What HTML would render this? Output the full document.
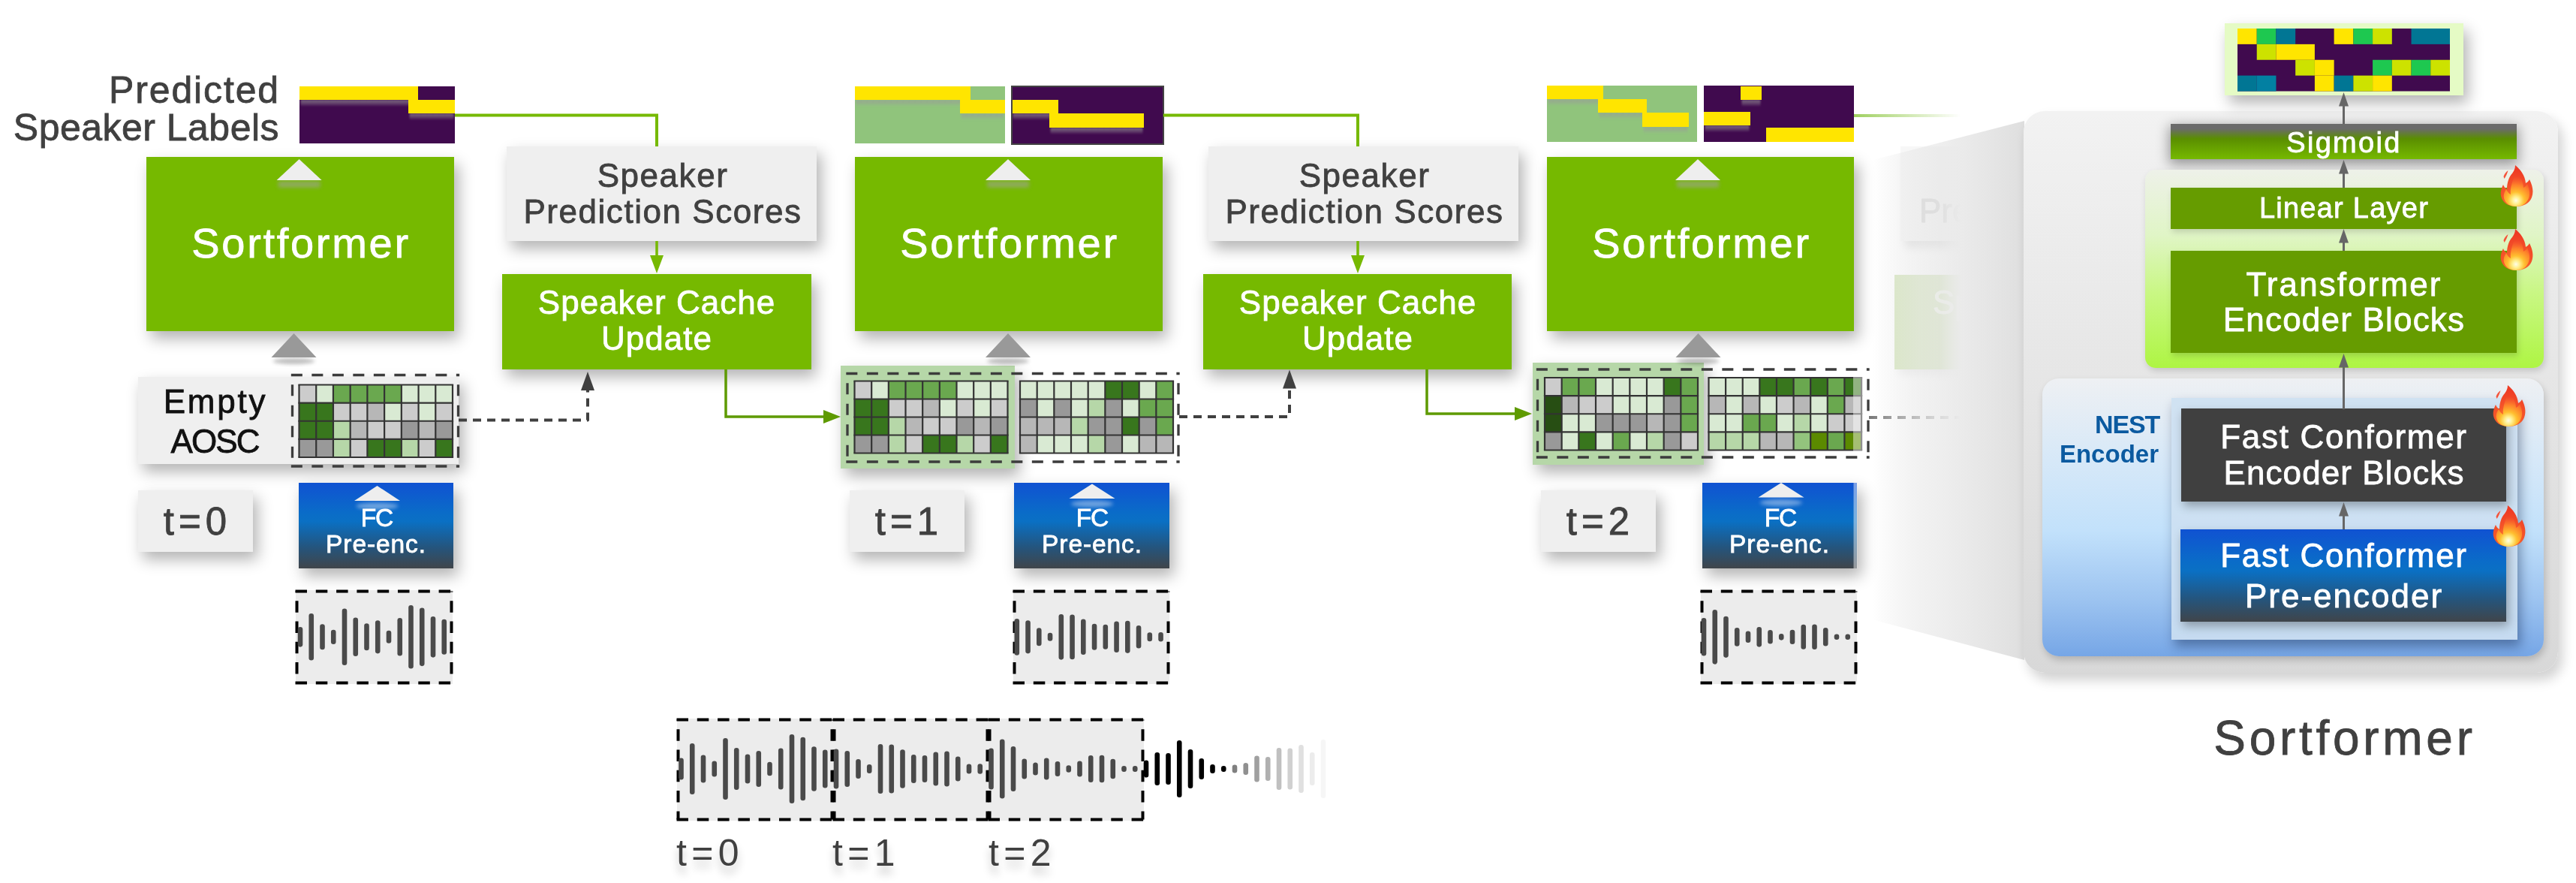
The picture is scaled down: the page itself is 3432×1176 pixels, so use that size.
<!DOCTYPE html>
<html><head><meta charset="utf-8"><title>Sortformer</title><style>
html,body{margin:0;padding:0;width:3432px;height:1176px;overflow:hidden;background:#fff;}
body{position:relative;font-family:"Liberation Sans",sans-serif;}
.box{position:absolute;box-sizing:border-box;}
.txt{position:absolute;white-space:nowrap;-webkit-text-stroke:0.8px currentColor;will-change:transform;}
.sh{box-shadow:6px 10px 19px rgba(0,0,0,0.30);}
.shs{box-shadow:3px 7px 10px rgba(0,0,0,0.22);}
.grn{background:#76b900;}
.gry{background:#efefef;}
.fc{background:linear-gradient(to bottom,#1052d2 0%,#0a6cc8 35%,#0a70c4 45%,#24557e 75%,#40454a 100%);}
svg{position:absolute;left:0;top:0;overflow:visible;}
</style></head><body>

<svg width="3432" height="1176" style="z-index:0">
<defs>
<linearGradient id="c4m" x1="2585" y1="0" x2="2614" y2="0" gradientUnits="userSpaceOnUse">
<stop offset="0" stop-color="#fff" stop-opacity="1"/><stop offset="1" stop-color="#fff" stop-opacity="0"/></linearGradient>
<mask id="c4mask" maskUnits="userSpaceOnUse" x="2400" y="0" width="400" height="1176"><rect x="2400" y="0" width="400" height="1176" fill="url(#c4m)"/></mask>
<filter id="c4b" x="-50%" y="-50%" width="200%" height="200%"><feGaussianBlur stdDeviation="6"/></filter>
</defs>
<g mask="url(#c4mask)">
<rect x="2538" y="206" width="300" height="124" fill="#000" opacity="0.10" filter="url(#c4b)"/>
<rect x="2532" y="195" width="300" height="126" fill="#f7f7f7"/>
<text x="2557" y="296" font-family="Liberation Sans" font-size="44" fill="#d8d8d8" stroke="#d8d8d8" stroke-width="0.8">Prediction</text>
<rect x="2530" y="375" width="300" height="124" fill="#000" opacity="0.06" filter="url(#c4b)"/>
<rect x="2524" y="366" width="300" height="126" fill="#dae9c4"/>
<text x="2575" y="418" font-family="Liberation Sans" font-size="44" fill="#f4f8ee" stroke="#f4f8ee" stroke-width="0.8">Speaker</text>
</g>
</svg>
<svg width="3432" height="1176" style="z-index:0">
<defs>
<linearGradient id="persp" x1="2495" y1="0" x2="2700" y2="0" gradientUnits="userSpaceOnUse">
<stop offset="0" stop-color="#dcdcdc" stop-opacity="0"/>
<stop offset="0.3" stop-color="#e4e4e4" stop-opacity="0.5"/>
<stop offset="1" stop-color="#dedede" stop-opacity="1"/>
</linearGradient>
</defs>
<polygon points="2470,219.5 2697,161 2697,879 2470,818.7" fill="url(#persp)"/>
</svg>
<div class="box" style="left:2696px;top:148px;width:712px;height:748px;background:linear-gradient(to bottom,#f2f2f2 0%,#e6e6e6 47%,#d8d8d8 100%);border-radius:28px;box-shadow:6px 10px 16px rgba(0,0,0,0.18);"></div>
<div class="txt" style="left:-227.50px;top:93.17px;width:600px;font-size:50px;line-height:55.00000000000001px;color:#404040;text-align:right;letter-spacing:1.85px;font-weight:normal;">Predicted</div>
<div class="txt" style="left:-228.00px;top:142.68px;width:600px;font-size:50px;line-height:55.00000000000001px;color:#404040;text-align:right;letter-spacing:0.48px;font-weight:normal;">Speaker Labels</div>
<div class="box grn sh" style="left:195px;top:209px;width:410px;height:232px;"></div>
<div class="txt" style="left:151.00px;top:292.80px;width:500px;font-size:56px;line-height:61.60000000000001px;color:#fff;text-align:center;letter-spacing:2.7px;font-weight:normal;">Sortformer</div>
<div class="box grn sh" style="left:1139px;top:209px;width:410px;height:232px;"></div>
<div class="txt" style="left:1095.00px;top:292.80px;width:500px;font-size:56px;line-height:61.60000000000001px;color:#fff;text-align:center;letter-spacing:2.7px;font-weight:normal;">Sortformer</div>
<div class="box grn sh" style="left:2061px;top:209px;width:409px;height:232px;"></div>
<div class="txt" style="left:2016.50px;top:292.80px;width:500px;font-size:56px;line-height:61.60000000000001px;color:#fff;text-align:center;letter-spacing:2.7px;font-weight:normal;">Sortformer</div>
<div class="box gry sh" style="left:675px;top:195px;width:413px;height:126px;"></div>
<div class="txt" style="left:632.50px;top:209.75px;width:500px;font-size:44px;line-height:48px;color:#404040;text-align:center;letter-spacing:1.55px;font-weight:normal;">Speaker<br>Prediction Scores</div>
<div class="box gry sh" style="left:1610px;top:195px;width:413px;height:126px;"></div>
<div class="txt" style="left:1567.50px;top:209.75px;width:500px;font-size:44px;line-height:48px;color:#404040;text-align:center;letter-spacing:1.55px;font-weight:normal;">Speaker<br>Prediction Scores</div>
<div class="box grn sh" style="left:669px;top:365px;width:412px;height:127px;"></div>
<div class="txt" style="left:625.00px;top:379.25px;width:500px;font-size:44px;line-height:48px;color:#fff;text-align:center;letter-spacing:1px;font-weight:normal;">Speaker Cache<br>Update</div>
<div class="box grn sh" style="left:1603px;top:365px;width:411px;height:127px;"></div>
<div class="txt" style="left:1558.50px;top:379.25px;width:500px;font-size:44px;line-height:48px;color:#fff;text-align:center;letter-spacing:1px;font-weight:normal;">Speaker Cache<br>Update</div>
<div class="box gry sh" style="left:184px;top:502px;width:427px;height:116px;"></div>
<div class="txt" style="left:137.00px;top:510.55px;width:300px;font-size:44px;line-height:48.400000000000006px;color:#111;text-align:center;letter-spacing:2.75px;font-weight:normal;">Empty</div>
<div class="txt" style="left:135.50px;top:563.55px;width:300px;font-size:44px;line-height:48.400000000000006px;color:#111;text-align:center;letter-spacing:-1.9px;font-weight:normal;">AOSC</div>
<div class="box sh" style="left:1120px;top:487px;width:232px;height:137px;background:#b6d7a8;"></div>
<div class="box sh" style="left:2042px;top:483px;width:228px;height:136px;background:#b6d7a8;"></div>
<div class="box gry sh" style="left:184px;top:653px;width:153px;height:82px;"></div>
<div class="txt" style="left:113.00px;top:666.68px;width:300px;font-size:51px;line-height:56.1px;color:#404040;text-align:center;letter-spacing:6px;font-weight:normal;">t=0</div>
<div class="box gry sh" style="left:1132px;top:653px;width:153px;height:82px;"></div>
<div class="txt" style="left:1061.00px;top:666.68px;width:300px;font-size:51px;line-height:56.1px;color:#404040;text-align:center;letter-spacing:6px;font-weight:normal;">t=1</div>
<div class="box gry sh" style="left:2053px;top:653px;width:153px;height:82px;"></div>
<div class="txt" style="left:1982.00px;top:666.68px;width:300px;font-size:51px;line-height:56.1px;color:#404040;text-align:center;letter-spacing:6px;font-weight:normal;">t=2</div>
<div class="box fc sh" style="left:398px;top:643px;width:206px;height:114px;"></div>
<div class="txt" style="left:351.50px;top:671.77px;width:300px;font-size:33.5px;line-height:36.85px;color:#fff;text-align:center;letter-spacing:-1.2px;font-weight:normal;">FC</div>
<div class="txt" style="left:351.00px;top:706.97px;width:300px;font-size:33.5px;line-height:36.85px;color:#fff;text-align:center;letter-spacing:0.9px;font-weight:normal;">Pre-enc.</div>
<div class="box fc sh" style="left:1351px;top:643px;width:207px;height:114px;"></div>
<div class="txt" style="left:1305.00px;top:671.77px;width:300px;font-size:33.5px;line-height:36.85px;color:#fff;text-align:center;letter-spacing:-1.2px;font-weight:normal;">FC</div>
<div class="txt" style="left:1304.50px;top:706.97px;width:300px;font-size:33.5px;line-height:36.85px;color:#fff;text-align:center;letter-spacing:0.9px;font-weight:normal;">Pre-enc.</div>
<div class="box fc sh" style="left:2268px;top:643px;width:206px;height:114px;"></div>
<div class="txt" style="left:2221.50px;top:671.77px;width:300px;font-size:33.5px;line-height:36.85px;color:#fff;text-align:center;letter-spacing:-1.2px;font-weight:normal;">FC</div>
<div class="txt" style="left:2221.00px;top:706.97px;width:300px;font-size:33.5px;line-height:36.85px;color:#fff;text-align:center;letter-spacing:0.9px;font-weight:normal;">Pre-enc.</div>
<div class="box" style="left:394px;top:786px;width:209px;height:125px;background:#ececec;"></div>
<div class="box" style="left:1350px;top:786px;width:208px;height:125px;background:#ececec;"></div>
<div class="box" style="left:2266px;top:786px;width:208px;height:125px;background:#ececec;"></div>
<div class="box" style="left:902px;top:957px;width:622px;height:136px;background:#ececec;"></div>
<div class="box sh" style="left:2964px;top:31px;width:318px;height:96px;background:#e5fbc5;"></div>
<div class="box" style="left:2892px;top:165px;width:461px;height:47px;background:linear-gradient(to bottom,#6b6b6b 0%,#6b6b6b 14%,#5a8e00 42%,#76b900 100%);box-shadow:0 5px 16px 2px rgba(0,0,0,0.38);"></div>
<div class="txt" style="left:2923.00px;top:170.43px;width:400px;font-size:38px;line-height:41.800000000000004px;color:#fff;text-align:center;letter-spacing:2.3px;font-weight:normal;">Sigmoid</div>
<div class="box" style="left:2858px;top:226px;width:531px;height:264px;background:linear-gradient(to bottom,#eef1e9 0%,#e0f5c6 33%,#c9f784 62%,#aef543 100%);border-radius:14px;box-shadow:2px 4px 8px rgba(0,0,0,0.15);"></div>
<div class="box" style="left:2892px;top:250px;width:461px;height:55px;background:#669c00;box-shadow:2px 4px 8px rgba(0,0,0,0.15);"></div>
<div class="txt" style="left:2923.00px;top:257.43px;width:400px;font-size:38px;line-height:41.800000000000004px;color:#fff;text-align:center;letter-spacing:1.25px;font-weight:normal;">Linear Layer</div>
<div class="box" style="left:2892px;top:334px;width:461px;height:136px;background:#669c00;box-shadow:2px 4px 8px rgba(0,0,0,0.15);"></div>
<div class="txt" style="left:2873.00px;top:354.55px;width:500px;font-size:44px;line-height:48.400000000000006px;color:#fff;text-align:center;letter-spacing:2.1px;font-weight:normal;">Transformer</div>
<div class="txt" style="left:2873.00px;top:402.05px;width:500px;font-size:44px;line-height:48.400000000000006px;color:#fff;text-align:center;letter-spacing:1.2px;font-weight:normal;">Encoder Blocks</div>
<div class="box" style="left:2721px;top:504px;width:668px;height:370px;background:linear-gradient(to bottom,#eef0f3 0%,#d6e8f8 30%,#c2e1fb 55%,#9cc3f0 80%,#76a6e6 100%);border-radius:22px;box-shadow:2px 5px 10px rgba(0,0,0,0.18);"></div>
<div class="box" style="left:2893px;top:530px;width:461px;height:322px;background:rgba(205,224,242,0.9);box-shadow:4px 9px 14px rgba(0,20,60,0.38);"></div>
<div class="txt" style="left:2576.50px;top:546.52px;width:300px;font-size:34px;line-height:37.400000000000006px;color:#0b5aa0;text-align:right;letter-spacing:-1.2px;font-weight:bold;-webkit-text-stroke:0;">NEST</div>
<div class="txt" style="left:2576.00px;top:586.92px;width:300px;font-size:33px;line-height:36.300000000000004px;color:#0b5aa0;text-align:right;letter-spacing:0px;font-weight:bold;-webkit-text-stroke:0;">Encoder</div>
<div class="box" style="left:2906px;top:544px;width:433px;height:124px;background:#404040;box-shadow:3px 6px 12px rgba(0,0,0,0.3);"></div>
<div class="txt" style="left:2873.00px;top:557.55px;width:500px;font-size:44px;line-height:48.400000000000006px;color:#fff;text-align:center;letter-spacing:1.7px;font-weight:normal;">Fast Conformer</div>
<div class="txt" style="left:2873.00px;top:605.55px;width:500px;font-size:44px;line-height:48.400000000000006px;color:#fff;text-align:center;letter-spacing:1.1px;font-weight:normal;">Encoder Blocks</div>
<div class="box fc" style="left:2905px;top:705px;width:434px;height:123px;"></div>
<div class="box" style="left:2905px;top:705px;width:434px;height:123px;box-shadow:3px 6px 12px rgba(0,0,0,0.3);"></div>
<div class="txt" style="left:2872.50px;top:716.05px;width:500px;font-size:44px;line-height:48.400000000000006px;color:#fff;text-align:center;letter-spacing:1.7px;font-weight:normal;">Fast Conformer</div>
<div class="txt" style="left:2872.50px;top:769.55px;width:500px;font-size:44px;line-height:48.400000000000006px;color:#fff;text-align:center;letter-spacing:2.0px;font-weight:normal;">Pre-encoder</div>
<div class="txt" style="left:2824.00px;top:948.12px;width:600px;font-size:64px;line-height:70.4px;color:#404040;text-align:center;letter-spacing:4.7px;font-weight:normal;">Sortformer</div>
<div class="txt" style="left:901.00px;top:1109.17px;width:200px;font-size:50px;line-height:55.00000000000001px;color:#404040;text-align:left;letter-spacing:6.3px;font-weight:normal;-webkit-text-stroke:0;text-shadow:0px 10px 12px rgba(0,0,0,0.22);">t=0</div>
<div class="txt" style="left:1109.00px;top:1109.17px;width:200px;font-size:50px;line-height:55.00000000000001px;color:#404040;text-align:left;letter-spacing:6.3px;font-weight:normal;-webkit-text-stroke:0;text-shadow:0px 10px 12px rgba(0,0,0,0.22);">t=1</div>
<div class="txt" style="left:1317.00px;top:1109.17px;width:200px;font-size:50px;line-height:55.00000000000001px;color:#404040;text-align:left;letter-spacing:6.3px;font-weight:normal;-webkit-text-stroke:0;text-shadow:0px 10px 12px rgba(0,0,0,0.22);">t=2</div>
<svg width="3432" height="1176"><defs><radialGradient id="flO" cx="21" cy="46" r="40" gradientUnits="userSpaceOnUse"><stop offset="0" stop-color="#ff8a30"/><stop offset="0.45" stop-color="#f5562a"/><stop offset="1" stop-color="#ee3a24"/></radialGradient><radialGradient id="flI" cx="21" cy="47" r="32" gradientUnits="userSpaceOnUse"><stop offset="0" stop-color="#fffce8"/><stop offset="0.15" stop-color="#fff090"/><stop offset="0.35" stop-color="#ffc030"/><stop offset="0.65" stop-color="#ff8a2a" stop-opacity="0.85"/><stop offset="1" stop-color="#f86030" stop-opacity="0"/></radialGradient><linearGradient id="hshad" x1="0" y1="0" x2="0" y2="1"><stop offset="0" stop-color="#9a9a9a" stop-opacity="0.6"/><stop offset="0.45" stop-color="#9a9a9a" stop-opacity="0.45"/><stop offset="1" stop-color="#9a9a9a" stop-opacity="0"/></linearGradient><filter id="blur1" x="-20%" y="-50%" width="140%" height="200%"><feGaussianBlur stdDeviation="1.2"/></filter><filter id="blur3" x="-50%" y="-50%" width="200%" height="200%"><feGaussianBlur stdDeviation="2.5"/></filter><filter id="blur4" x="-50%" y="-50%" width="200%" height="200%"><feGaussianBlur stdDeviation="4"/></filter><linearGradient id="fadeG" x1="2470" y1="0" x2="2612" y2="0" gradientUnits="userSpaceOnUse"><stop offset="0" stop-color="#9fd060"/><stop offset="1" stop-color="#9fd060" stop-opacity="0"/></linearGradient><linearGradient id="fadeD" x1="2490" y1="0" x2="2612" y2="0" gradientUnits="userSpaceOnUse"><stop offset="0" stop-color="#777"/><stop offset="1" stop-color="#999" stop-opacity="0"/></linearGradient></defs>
<rect x="399" y="115" width="207" height="76" fill="#400a4e"/>
<svg x="399" y="115" width="207" height="76" style="overflow:hidden">
<rect x="1.5" y="18" width="155" height="9" fill="url(#hshad)" filter="url(#blur1)"/>
<rect x="146.5" y="36" width="59" height="9" fill="url(#hshad)" filter="url(#blur1)"/>
<rect x="0" y="0" width="158" height="18" fill="#ffe500"/>
<rect x="145" y="18" width="62" height="18" fill="#ffe500"/>
</svg>
<rect x="1139" y="115" width="200" height="76" fill="#90c47c"/>
<svg x="1139" y="115" width="200" height="76" style="overflow:hidden">
<rect x="1.5" y="18" width="151" height="9" fill="url(#hshad)" filter="url(#blur1)"/>
<rect x="141.5" y="36" width="57" height="9" fill="url(#hshad)" filter="url(#blur1)"/>
<rect x="0" y="0" width="154" height="18" fill="#ffe500"/>
<rect x="140" y="18" width="60" height="18" fill="#ffe500"/>
</svg>
<rect x="1348" y="115" width="202" height="77" fill="#400a4e"/>
<svg x="1348" y="115" width="202" height="77" style="overflow:hidden">
<rect x="1.5" y="36" width="59" height="9" fill="url(#hshad)" filter="url(#blur1)"/>
<rect x="51.5" y="55" width="123" height="9" fill="url(#hshad)" filter="url(#blur1)"/>
<rect x="0" y="18" width="62" height="18" fill="#ffe500"/>
<rect x="50" y="36" width="126" height="19" fill="#ffe500"/>
</svg>
<rect x="1348" y="115" width="202" height="77" fill="none" stroke="#444" stroke-width="2"/>
<rect x="2061" y="114" width="200" height="75" fill="#90c47c"/>
<svg x="2061" y="114" width="200" height="75" style="overflow:hidden">
<rect x="1.5" y="18" width="72" height="9" fill="url(#hshad)" filter="url(#blur1)"/>
<rect x="69.5" y="36" width="62" height="9" fill="url(#hshad)" filter="url(#blur1)"/>
<rect x="128.5" y="55" width="59" height="9" fill="url(#hshad)" filter="url(#blur1)"/>
<rect x="0" y="0" width="75" height="18" fill="#ffe500"/>
<rect x="68" y="18" width="65" height="18" fill="#ffe500"/>
<rect x="127" y="36" width="62" height="19" fill="#ffe500"/>
</svg>
<rect x="2270" y="114" width="200" height="75" fill="#400a4e"/>
<svg x="2270" y="114" width="200" height="75" style="overflow:hidden">
<rect x="50.5" y="19" width="25" height="9" fill="url(#hshad)" filter="url(#blur1)"/>
<rect x="1.5" y="53" width="59" height="9" fill="url(#hshad)" filter="url(#blur1)"/>
<rect x="84.5" y="75" width="114" height="9" fill="url(#hshad)" filter="url(#blur1)"/>
<rect x="49" y="1" width="28" height="18" fill="#ffe500"/>
<rect x="0" y="35" width="62" height="18" fill="#ffe500"/>
<rect x="83" y="56" width="117" height="19" fill="#ffe500"/>
</svg>
<rect x="370.6" y="241" width="56" height="9" fill="#a0a0a0" opacity="0.55" filter="url(#blur3)"/>
<polygon points="368.6,240 398.6,212 428.6,240" fill="#eeeeee"/>
<rect x="1315" y="241" width="56" height="9" fill="#a0a0a0" opacity="0.55" filter="url(#blur3)"/>
<polygon points="1313,240 1343,212 1373,240" fill="#eeeeee"/>
<rect x="2234" y="241" width="56" height="9" fill="#a0a0a0" opacity="0.55" filter="url(#blur3)"/>
<polygon points="2232,240 2262,212 2292,240" fill="#eeeeee"/>
<ellipse cx="391.5" cy="481" rx="28" ry="4" fill="#000" opacity="0.25" filter="url(#blur3)"/>
<polygon points="361.5,476 391.5,444 421.5,476" fill="#999999"/>
<ellipse cx="1343" cy="481" rx="28" ry="4" fill="#000" opacity="0.25" filter="url(#blur3)"/>
<polygon points="1313,476 1343,444 1373,476" fill="#999999"/>
<ellipse cx="2262.5" cy="481" rx="28" ry="4" fill="#000" opacity="0.25" filter="url(#blur3)"/>
<polygon points="2232.5,476 2262.5,444 2292.5,476" fill="#999999"/>
<ellipse cx="502.5" cy="674" rx="28" ry="4.5" fill="#fff" opacity="0.4" filter="url(#blur3)"/>
<polygon points="472.0,667 502.5,647 533.0,667" fill="#eeeeee"/>
<ellipse cx="1455" cy="671" rx="28" ry="4.5" fill="#fff" opacity="0.4" filter="url(#blur3)"/>
<polygon points="1424.5,664 1455,644.5 1485.5,664" fill="#eeeeee"/>
<ellipse cx="2373" cy="669.5" rx="28" ry="4.5" fill="#fff" opacity="0.4" filter="url(#blur3)"/>
<polygon points="2342.5,662.5 2373,643 2403.5,662.5" fill="#eeeeee"/>
<rect x="2469.5" y="643" width="5" height="114" fill="#fff" opacity="0.45"/>
<polyline points="606,153.5 875,153.5 875,195" fill="none" stroke="#76b900" stroke-width="4"/>
<polyline points="1550,153.5 1809,153.5 1809,195" fill="none" stroke="#76b900" stroke-width="4"/>
<rect x="2470" y="152" width="142" height="4" fill="url(#fadeG)"/>
<line x1="875" y1="321" x2="875" y2="345" stroke="#76b900" stroke-width="3.5"/>
<polygon points="866,340 884,340 875,364" fill="#76b900"/>
<line x1="1809" y1="321" x2="1809" y2="345" stroke="#76b900" stroke-width="3.5"/>
<polygon points="1800,340 1818,340 1809,364" fill="#76b900"/>
<polyline points="967,492 967,555 1100,555" fill="none" stroke="#5e9a00" stroke-width="3.5"/>
<polygon points="1097,546 1097,564 1120,555" fill="#5e9a00"/>
<polyline points="1901,492 1901,551 2020,551" fill="none" stroke="#5e9a00" stroke-width="3.5"/>
<polygon points="2018,542 2018,560 2041,551" fill="#5e9a00"/>
<rect x="398.50" y="512.50" width="23.02" height="24.43" fill="#cccccc"/>
<rect x="421.22" y="512.50" width="23.02" height="24.43" fill="#d9ead3"/>
<rect x="443.94" y="512.50" width="23.02" height="24.43" fill="#6aa84f"/>
<rect x="466.67" y="512.50" width="23.02" height="24.43" fill="#6aa84f"/>
<rect x="489.39" y="512.50" width="23.02" height="24.43" fill="#6aa84f"/>
<rect x="512.11" y="512.50" width="23.02" height="24.43" fill="#6aa84f"/>
<rect x="534.83" y="512.50" width="23.02" height="24.43" fill="#d9ead3"/>
<rect x="557.56" y="512.50" width="23.02" height="24.43" fill="#d9ead3"/>
<rect x="580.28" y="512.50" width="23.02" height="24.43" fill="#d9ead3"/>
<rect x="398.50" y="536.62" width="23.02" height="24.43" fill="#38761d"/>
<rect x="421.22" y="536.62" width="23.02" height="24.43" fill="#38761d"/>
<rect x="443.94" y="536.62" width="23.02" height="24.43" fill="#cccccc"/>
<rect x="466.67" y="536.62" width="23.02" height="24.43" fill="#cccccc"/>
<rect x="489.39" y="536.62" width="23.02" height="24.43" fill="#b7b7b7"/>
<rect x="512.11" y="536.62" width="23.02" height="24.43" fill="#d9ead3"/>
<rect x="534.83" y="536.62" width="23.02" height="24.43" fill="#cccccc"/>
<rect x="557.56" y="536.62" width="23.02" height="24.43" fill="#d9ead3"/>
<rect x="580.28" y="536.62" width="23.02" height="24.43" fill="#cccccc"/>
<rect x="398.50" y="560.75" width="23.02" height="24.43" fill="#38761d"/>
<rect x="421.22" y="560.75" width="23.02" height="24.43" fill="#38761d"/>
<rect x="443.94" y="560.75" width="23.02" height="24.43" fill="#b6d7a8"/>
<rect x="466.67" y="560.75" width="23.02" height="24.43" fill="#b7b7b7"/>
<rect x="489.39" y="560.75" width="23.02" height="24.43" fill="#cccccc"/>
<rect x="512.11" y="560.75" width="23.02" height="24.43" fill="#cccccc"/>
<rect x="534.83" y="560.75" width="23.02" height="24.43" fill="#999999"/>
<rect x="557.56" y="560.75" width="23.02" height="24.43" fill="#b7b7b7"/>
<rect x="580.28" y="560.75" width="23.02" height="24.43" fill="#999999"/>
<rect x="398.50" y="584.88" width="23.02" height="24.43" fill="#999999"/>
<rect x="421.22" y="584.88" width="23.02" height="24.43" fill="#999999"/>
<rect x="443.94" y="584.88" width="23.02" height="24.43" fill="#b6d7a8"/>
<rect x="466.67" y="584.88" width="23.02" height="24.43" fill="#cccccc"/>
<rect x="489.39" y="584.88" width="23.02" height="24.43" fill="#38761d"/>
<rect x="512.11" y="584.88" width="23.02" height="24.43" fill="#38761d"/>
<rect x="534.83" y="584.88" width="23.02" height="24.43" fill="#b6d7a8"/>
<rect x="557.56" y="584.88" width="23.02" height="24.43" fill="#cccccc"/>
<rect x="580.28" y="584.88" width="23.02" height="24.43" fill="#38761d"/>
<line x1="398.50" y1="512.5" x2="398.50" y2="609" stroke="#333" stroke-width="2.2"/>
<line x1="421.22" y1="512.5" x2="421.22" y2="609" stroke="#333" stroke-width="2.2"/>
<line x1="443.94" y1="512.5" x2="443.94" y2="609" stroke="#333" stroke-width="2.2"/>
<line x1="466.67" y1="512.5" x2="466.67" y2="609" stroke="#333" stroke-width="2.2"/>
<line x1="489.39" y1="512.5" x2="489.39" y2="609" stroke="#333" stroke-width="2.2"/>
<line x1="512.11" y1="512.5" x2="512.11" y2="609" stroke="#333" stroke-width="2.2"/>
<line x1="534.83" y1="512.5" x2="534.83" y2="609" stroke="#333" stroke-width="2.2"/>
<line x1="557.56" y1="512.5" x2="557.56" y2="609" stroke="#333" stroke-width="2.2"/>
<line x1="580.28" y1="512.5" x2="580.28" y2="609" stroke="#333" stroke-width="2.2"/>
<line x1="603.00" y1="512.5" x2="603.00" y2="609" stroke="#333" stroke-width="2.2"/>
<line x1="397.4" y1="512.50" x2="604.1" y2="512.50" stroke="#333" stroke-width="2.2"/>
<line x1="397.4" y1="536.62" x2="604.1" y2="536.62" stroke="#333" stroke-width="2.2"/>
<line x1="397.4" y1="560.75" x2="604.1" y2="560.75" stroke="#333" stroke-width="2.2"/>
<line x1="397.4" y1="584.88" x2="604.1" y2="584.88" stroke="#333" stroke-width="2.2"/>
<line x1="397.4" y1="609.00" x2="604.1" y2="609.00" stroke="#333" stroke-width="2.2"/>
<rect x="1138.50" y="507.50" width="22.97" height="24.30" fill="#cccccc"/>
<rect x="1161.17" y="507.50" width="22.97" height="24.30" fill="#d9ead3"/>
<rect x="1183.83" y="507.50" width="22.97" height="24.30" fill="#6aa84f"/>
<rect x="1206.50" y="507.50" width="22.97" height="24.30" fill="#6aa84f"/>
<rect x="1229.17" y="507.50" width="22.97" height="24.30" fill="#6aa84f"/>
<rect x="1251.83" y="507.50" width="22.97" height="24.30" fill="#6aa84f"/>
<rect x="1274.50" y="507.50" width="22.97" height="24.30" fill="#d9ead3"/>
<rect x="1297.17" y="507.50" width="22.97" height="24.30" fill="#d9ead3"/>
<rect x="1319.83" y="507.50" width="22.97" height="24.30" fill="#d9ead3"/>
<rect x="1138.50" y="531.50" width="22.97" height="24.30" fill="#38761d"/>
<rect x="1161.17" y="531.50" width="22.97" height="24.30" fill="#38761d"/>
<rect x="1183.83" y="531.50" width="22.97" height="24.30" fill="#cccccc"/>
<rect x="1206.50" y="531.50" width="22.97" height="24.30" fill="#cccccc"/>
<rect x="1229.17" y="531.50" width="22.97" height="24.30" fill="#b7b7b7"/>
<rect x="1251.83" y="531.50" width="22.97" height="24.30" fill="#d9ead3"/>
<rect x="1274.50" y="531.50" width="22.97" height="24.30" fill="#cccccc"/>
<rect x="1297.17" y="531.50" width="22.97" height="24.30" fill="#d9ead3"/>
<rect x="1319.83" y="531.50" width="22.97" height="24.30" fill="#cccccc"/>
<rect x="1138.50" y="555.50" width="22.97" height="24.30" fill="#38761d"/>
<rect x="1161.17" y="555.50" width="22.97" height="24.30" fill="#38761d"/>
<rect x="1183.83" y="555.50" width="22.97" height="24.30" fill="#b6d7a8"/>
<rect x="1206.50" y="555.50" width="22.97" height="24.30" fill="#b7b7b7"/>
<rect x="1229.17" y="555.50" width="22.97" height="24.30" fill="#cccccc"/>
<rect x="1251.83" y="555.50" width="22.97" height="24.30" fill="#cccccc"/>
<rect x="1274.50" y="555.50" width="22.97" height="24.30" fill="#999999"/>
<rect x="1297.17" y="555.50" width="22.97" height="24.30" fill="#b7b7b7"/>
<rect x="1319.83" y="555.50" width="22.97" height="24.30" fill="#999999"/>
<rect x="1138.50" y="579.50" width="22.97" height="24.30" fill="#999999"/>
<rect x="1161.17" y="579.50" width="22.97" height="24.30" fill="#999999"/>
<rect x="1183.83" y="579.50" width="22.97" height="24.30" fill="#b6d7a8"/>
<rect x="1206.50" y="579.50" width="22.97" height="24.30" fill="#cccccc"/>
<rect x="1229.17" y="579.50" width="22.97" height="24.30" fill="#38761d"/>
<rect x="1251.83" y="579.50" width="22.97" height="24.30" fill="#38761d"/>
<rect x="1274.50" y="579.50" width="22.97" height="24.30" fill="#b6d7a8"/>
<rect x="1297.17" y="579.50" width="22.97" height="24.30" fill="#cccccc"/>
<rect x="1319.83" y="579.50" width="22.97" height="24.30" fill="#38761d"/>
<line x1="1138.50" y1="507.5" x2="1138.50" y2="603.5" stroke="#333" stroke-width="2.2"/>
<line x1="1161.17" y1="507.5" x2="1161.17" y2="603.5" stroke="#333" stroke-width="2.2"/>
<line x1="1183.83" y1="507.5" x2="1183.83" y2="603.5" stroke="#333" stroke-width="2.2"/>
<line x1="1206.50" y1="507.5" x2="1206.50" y2="603.5" stroke="#333" stroke-width="2.2"/>
<line x1="1229.17" y1="507.5" x2="1229.17" y2="603.5" stroke="#333" stroke-width="2.2"/>
<line x1="1251.83" y1="507.5" x2="1251.83" y2="603.5" stroke="#333" stroke-width="2.2"/>
<line x1="1274.50" y1="507.5" x2="1274.50" y2="603.5" stroke="#333" stroke-width="2.2"/>
<line x1="1297.17" y1="507.5" x2="1297.17" y2="603.5" stroke="#333" stroke-width="2.2"/>
<line x1="1319.83" y1="507.5" x2="1319.83" y2="603.5" stroke="#333" stroke-width="2.2"/>
<line x1="1342.50" y1="507.5" x2="1342.50" y2="603.5" stroke="#333" stroke-width="2.2"/>
<line x1="1137.4" y1="507.50" x2="1343.6" y2="507.50" stroke="#333" stroke-width="2.2"/>
<line x1="1137.4" y1="531.50" x2="1343.6" y2="531.50" stroke="#333" stroke-width="2.2"/>
<line x1="1137.4" y1="555.50" x2="1343.6" y2="555.50" stroke="#333" stroke-width="2.2"/>
<line x1="1137.4" y1="579.50" x2="1343.6" y2="579.50" stroke="#333" stroke-width="2.2"/>
<line x1="1137.4" y1="603.50" x2="1343.6" y2="603.50" stroke="#333" stroke-width="2.2"/>
<rect x="1359.00" y="507.50" width="22.97" height="24.30" fill="#d9ead3"/>
<rect x="1381.67" y="507.50" width="22.97" height="24.30" fill="#d9ead3"/>
<rect x="1404.33" y="507.50" width="22.97" height="24.30" fill="#d9ead3"/>
<rect x="1427.00" y="507.50" width="22.97" height="24.30" fill="#d9ead3"/>
<rect x="1449.67" y="507.50" width="22.97" height="24.30" fill="#d9ead3"/>
<rect x="1472.33" y="507.50" width="22.97" height="24.30" fill="#38761d"/>
<rect x="1495.00" y="507.50" width="22.97" height="24.30" fill="#38761d"/>
<rect x="1517.67" y="507.50" width="22.97" height="24.30" fill="#d9ead3"/>
<rect x="1540.33" y="507.50" width="22.97" height="24.30" fill="#6aa84f"/>
<rect x="1359.00" y="531.50" width="22.97" height="24.30" fill="#999999"/>
<rect x="1381.67" y="531.50" width="22.97" height="24.30" fill="#d9ead3"/>
<rect x="1404.33" y="531.50" width="22.97" height="24.30" fill="#999999"/>
<rect x="1427.00" y="531.50" width="22.97" height="24.30" fill="#d9ead3"/>
<rect x="1449.67" y="531.50" width="22.97" height="24.30" fill="#b6d7a8"/>
<rect x="1472.33" y="531.50" width="22.97" height="24.30" fill="#999999"/>
<rect x="1495.00" y="531.50" width="22.97" height="24.30" fill="#d9ead3"/>
<rect x="1517.67" y="531.50" width="22.97" height="24.30" fill="#6aa84f"/>
<rect x="1540.33" y="531.50" width="22.97" height="24.30" fill="#6aa84f"/>
<rect x="1359.00" y="555.50" width="22.97" height="24.30" fill="#b7b7b7"/>
<rect x="1381.67" y="555.50" width="22.97" height="24.30" fill="#b7b7b7"/>
<rect x="1404.33" y="555.50" width="22.97" height="24.30" fill="#b7b7b7"/>
<rect x="1427.00" y="555.50" width="22.97" height="24.30" fill="#b6d7a8"/>
<rect x="1449.67" y="555.50" width="22.97" height="24.30" fill="#999999"/>
<rect x="1472.33" y="555.50" width="22.97" height="24.30" fill="#999999"/>
<rect x="1495.00" y="555.50" width="22.97" height="24.30" fill="#38761d"/>
<rect x="1517.67" y="555.50" width="22.97" height="24.30" fill="#999999"/>
<rect x="1540.33" y="555.50" width="22.97" height="24.30" fill="#6aa84f"/>
<rect x="1359.00" y="579.50" width="22.97" height="24.30" fill="#b7b7b7"/>
<rect x="1381.67" y="579.50" width="22.97" height="24.30" fill="#d9ead3"/>
<rect x="1404.33" y="579.50" width="22.97" height="24.30" fill="#d9ead3"/>
<rect x="1427.00" y="579.50" width="22.97" height="24.30" fill="#d9ead3"/>
<rect x="1449.67" y="579.50" width="22.97" height="24.30" fill="#b6d7a8"/>
<rect x="1472.33" y="579.50" width="22.97" height="24.30" fill="#999999"/>
<rect x="1495.00" y="579.50" width="22.97" height="24.30" fill="#d9ead3"/>
<rect x="1517.67" y="579.50" width="22.97" height="24.30" fill="#b7b7b7"/>
<rect x="1540.33" y="579.50" width="22.97" height="24.30" fill="#b7b7b7"/>
<line x1="1359.00" y1="507.5" x2="1359.00" y2="603.5" stroke="#333" stroke-width="2.2"/>
<line x1="1381.67" y1="507.5" x2="1381.67" y2="603.5" stroke="#333" stroke-width="2.2"/>
<line x1="1404.33" y1="507.5" x2="1404.33" y2="603.5" stroke="#333" stroke-width="2.2"/>
<line x1="1427.00" y1="507.5" x2="1427.00" y2="603.5" stroke="#333" stroke-width="2.2"/>
<line x1="1449.67" y1="507.5" x2="1449.67" y2="603.5" stroke="#333" stroke-width="2.2"/>
<line x1="1472.33" y1="507.5" x2="1472.33" y2="603.5" stroke="#333" stroke-width="2.2"/>
<line x1="1495.00" y1="507.5" x2="1495.00" y2="603.5" stroke="#333" stroke-width="2.2"/>
<line x1="1517.67" y1="507.5" x2="1517.67" y2="603.5" stroke="#333" stroke-width="2.2"/>
<line x1="1540.33" y1="507.5" x2="1540.33" y2="603.5" stroke="#333" stroke-width="2.2"/>
<line x1="1563.00" y1="507.5" x2="1563.00" y2="603.5" stroke="#333" stroke-width="2.2"/>
<line x1="1357.9" y1="507.50" x2="1564.1" y2="507.50" stroke="#333" stroke-width="2.2"/>
<line x1="1357.9" y1="531.50" x2="1564.1" y2="531.50" stroke="#333" stroke-width="2.2"/>
<line x1="1357.9" y1="555.50" x2="1564.1" y2="555.50" stroke="#333" stroke-width="2.2"/>
<line x1="1357.9" y1="579.50" x2="1564.1" y2="579.50" stroke="#333" stroke-width="2.2"/>
<line x1="1357.9" y1="603.50" x2="1564.1" y2="603.50" stroke="#333" stroke-width="2.2"/>
<rect x="2058.00" y="503.00" width="22.97" height="24.43" fill="#cccccc"/>
<rect x="2080.67" y="503.00" width="22.97" height="24.43" fill="#6aa84f"/>
<rect x="2103.33" y="503.00" width="22.97" height="24.43" fill="#6aa84f"/>
<rect x="2126.00" y="503.00" width="22.97" height="24.43" fill="#d9ead3"/>
<rect x="2148.67" y="503.00" width="22.97" height="24.43" fill="#d9ead3"/>
<rect x="2171.33" y="503.00" width="22.97" height="24.43" fill="#d9ead3"/>
<rect x="2194.00" y="503.00" width="22.97" height="24.43" fill="#d9ead3"/>
<rect x="2216.67" y="503.00" width="22.97" height="24.43" fill="#38761d"/>
<rect x="2239.33" y="503.00" width="22.97" height="24.43" fill="#6aa84f"/>
<rect x="2058.00" y="527.12" width="22.97" height="24.43" fill="#274e13"/>
<rect x="2080.67" y="527.12" width="22.97" height="24.43" fill="#b7b7b7"/>
<rect x="2103.33" y="527.12" width="22.97" height="24.43" fill="#cccccc"/>
<rect x="2126.00" y="527.12" width="22.97" height="24.43" fill="#cccccc"/>
<rect x="2148.67" y="527.12" width="22.97" height="24.43" fill="#d9ead3"/>
<rect x="2171.33" y="527.12" width="22.97" height="24.43" fill="#d9ead3"/>
<rect x="2194.00" y="527.12" width="22.97" height="24.43" fill="#d9ead3"/>
<rect x="2216.67" y="527.12" width="22.97" height="24.43" fill="#999999"/>
<rect x="2239.33" y="527.12" width="22.97" height="24.43" fill="#6aa84f"/>
<rect x="2058.00" y="551.25" width="22.97" height="24.43" fill="#274e13"/>
<rect x="2080.67" y="551.25" width="22.97" height="24.43" fill="#d9ead3"/>
<rect x="2103.33" y="551.25" width="22.97" height="24.43" fill="#d9ead3"/>
<rect x="2126.00" y="551.25" width="22.97" height="24.43" fill="#999999"/>
<rect x="2148.67" y="551.25" width="22.97" height="24.43" fill="#999999"/>
<rect x="2171.33" y="551.25" width="22.97" height="24.43" fill="#999999"/>
<rect x="2194.00" y="551.25" width="22.97" height="24.43" fill="#b7b7b7"/>
<rect x="2216.67" y="551.25" width="22.97" height="24.43" fill="#999999"/>
<rect x="2239.33" y="551.25" width="22.97" height="24.43" fill="#6aa84f"/>
<rect x="2058.00" y="575.38" width="22.97" height="24.43" fill="#999999"/>
<rect x="2080.67" y="575.38" width="22.97" height="24.43" fill="#d9ead3"/>
<rect x="2103.33" y="575.38" width="22.97" height="24.43" fill="#38761d"/>
<rect x="2126.00" y="575.38" width="22.97" height="24.43" fill="#d9ead3"/>
<rect x="2148.67" y="575.38" width="22.97" height="24.43" fill="#6aa84f"/>
<rect x="2171.33" y="575.38" width="22.97" height="24.43" fill="#d9ead3"/>
<rect x="2194.00" y="575.38" width="22.97" height="24.43" fill="#b6d7a8"/>
<rect x="2216.67" y="575.38" width="22.97" height="24.43" fill="#999999"/>
<rect x="2239.33" y="575.38" width="22.97" height="24.43" fill="#cccccc"/>
<line x1="2058.00" y1="503" x2="2058.00" y2="599.5" stroke="#333" stroke-width="2.2"/>
<line x1="2080.67" y1="503" x2="2080.67" y2="599.5" stroke="#333" stroke-width="2.2"/>
<line x1="2103.33" y1="503" x2="2103.33" y2="599.5" stroke="#333" stroke-width="2.2"/>
<line x1="2126.00" y1="503" x2="2126.00" y2="599.5" stroke="#333" stroke-width="2.2"/>
<line x1="2148.67" y1="503" x2="2148.67" y2="599.5" stroke="#333" stroke-width="2.2"/>
<line x1="2171.33" y1="503" x2="2171.33" y2="599.5" stroke="#333" stroke-width="2.2"/>
<line x1="2194.00" y1="503" x2="2194.00" y2="599.5" stroke="#333" stroke-width="2.2"/>
<line x1="2216.67" y1="503" x2="2216.67" y2="599.5" stroke="#333" stroke-width="2.2"/>
<line x1="2239.33" y1="503" x2="2239.33" y2="599.5" stroke="#333" stroke-width="2.2"/>
<line x1="2262.00" y1="503" x2="2262.00" y2="599.5" stroke="#333" stroke-width="2.2"/>
<line x1="2056.9" y1="503.00" x2="2263.1" y2="503.00" stroke="#333" stroke-width="2.2"/>
<line x1="2056.9" y1="527.12" x2="2263.1" y2="527.12" stroke="#333" stroke-width="2.2"/>
<line x1="2056.9" y1="551.25" x2="2263.1" y2="551.25" stroke="#333" stroke-width="2.2"/>
<line x1="2056.9" y1="575.38" x2="2263.1" y2="575.38" stroke="#333" stroke-width="2.2"/>
<line x1="2056.9" y1="599.50" x2="2263.1" y2="599.50" stroke="#333" stroke-width="2.2"/>
<rect x="2276.50" y="503.00" width="22.91" height="24.43" fill="#d9ead3"/>
<rect x="2299.11" y="503.00" width="22.91" height="24.43" fill="#d9ead3"/>
<rect x="2321.72" y="503.00" width="22.91" height="24.43" fill="#d9ead3"/>
<rect x="2344.33" y="503.00" width="22.91" height="24.43" fill="#38761d"/>
<rect x="2366.94" y="503.00" width="22.91" height="24.43" fill="#38761d"/>
<rect x="2389.56" y="503.00" width="22.91" height="24.43" fill="#6aa84f"/>
<rect x="2412.17" y="503.00" width="22.91" height="24.43" fill="#38761d"/>
<rect x="2434.78" y="503.00" width="22.91" height="24.43" fill="#6aa84f"/>
<rect x="2457.39" y="503.00" width="22.91" height="24.43" fill="#38761d"/>
<rect x="2276.50" y="527.12" width="22.91" height="24.43" fill="#b7b7b7"/>
<rect x="2299.11" y="527.12" width="22.91" height="24.43" fill="#d9ead3"/>
<rect x="2321.72" y="527.12" width="22.91" height="24.43" fill="#b7b7b7"/>
<rect x="2344.33" y="527.12" width="22.91" height="24.43" fill="#d9ead3"/>
<rect x="2366.94" y="527.12" width="22.91" height="24.43" fill="#cccccc"/>
<rect x="2389.56" y="527.12" width="22.91" height="24.43" fill="#b7b7b7"/>
<rect x="2412.17" y="527.12" width="22.91" height="24.43" fill="#d9ead3"/>
<rect x="2434.78" y="527.12" width="22.91" height="24.43" fill="#6aa84f"/>
<rect x="2457.39" y="527.12" width="22.91" height="24.43" fill="#b7b7b7"/>
<rect x="2276.50" y="551.25" width="22.91" height="24.43" fill="#d9ead3"/>
<rect x="2299.11" y="551.25" width="22.91" height="24.43" fill="#d9ead3"/>
<rect x="2321.72" y="551.25" width="22.91" height="24.43" fill="#6aa84f"/>
<rect x="2344.33" y="551.25" width="22.91" height="24.43" fill="#6aa84f"/>
<rect x="2366.94" y="551.25" width="22.91" height="24.43" fill="#d9ead3"/>
<rect x="2389.56" y="551.25" width="22.91" height="24.43" fill="#b6d7a8"/>
<rect x="2412.17" y="551.25" width="22.91" height="24.43" fill="#d9ead3"/>
<rect x="2434.78" y="551.25" width="22.91" height="24.43" fill="#cccccc"/>
<rect x="2457.39" y="551.25" width="22.91" height="24.43" fill="#cccccc"/>
<rect x="2276.50" y="575.38" width="22.91" height="24.43" fill="#b6d7a8"/>
<rect x="2299.11" y="575.38" width="22.91" height="24.43" fill="#b6d7a8"/>
<rect x="2321.72" y="575.38" width="22.91" height="24.43" fill="#b6d7a8"/>
<rect x="2344.33" y="575.38" width="22.91" height="24.43" fill="#b7b7b7"/>
<rect x="2366.94" y="575.38" width="22.91" height="24.43" fill="#b7b7b7"/>
<rect x="2389.56" y="575.38" width="22.91" height="24.43" fill="#93c47d"/>
<rect x="2412.17" y="575.38" width="22.91" height="24.43" fill="#5b8a00"/>
<rect x="2434.78" y="575.38" width="22.91" height="24.43" fill="#6aa84f"/>
<rect x="2457.39" y="575.38" width="22.91" height="24.43" fill="#5b8a00"/>
<line x1="2276.50" y1="503" x2="2276.50" y2="599.5" stroke="#333" stroke-width="2.2"/>
<line x1="2299.11" y1="503" x2="2299.11" y2="599.5" stroke="#333" stroke-width="2.2"/>
<line x1="2321.72" y1="503" x2="2321.72" y2="599.5" stroke="#333" stroke-width="2.2"/>
<line x1="2344.33" y1="503" x2="2344.33" y2="599.5" stroke="#333" stroke-width="2.2"/>
<line x1="2366.94" y1="503" x2="2366.94" y2="599.5" stroke="#333" stroke-width="2.2"/>
<line x1="2389.56" y1="503" x2="2389.56" y2="599.5" stroke="#333" stroke-width="2.2"/>
<line x1="2412.17" y1="503" x2="2412.17" y2="599.5" stroke="#333" stroke-width="2.2"/>
<line x1="2434.78" y1="503" x2="2434.78" y2="599.5" stroke="#333" stroke-width="2.2"/>
<line x1="2457.39" y1="503" x2="2457.39" y2="599.5" stroke="#333" stroke-width="2.2"/>
<line x1="2480.00" y1="503" x2="2480.00" y2="599.5" stroke="#333" stroke-width="2.2"/>
<line x1="2275.4" y1="503.00" x2="2481.1" y2="503.00" stroke="#333" stroke-width="2.2"/>
<line x1="2275.4" y1="527.12" x2="2481.1" y2="527.12" stroke="#333" stroke-width="2.2"/>
<line x1="2275.4" y1="551.25" x2="2481.1" y2="551.25" stroke="#333" stroke-width="2.2"/>
<line x1="2275.4" y1="575.38" x2="2481.1" y2="575.38" stroke="#333" stroke-width="2.2"/>
<line x1="2275.4" y1="599.50" x2="2481.1" y2="599.50" stroke="#333" stroke-width="2.2"/>
<rect x="2469" y="502" width="12" height="99" fill="#fff" opacity="0.45"/>
<line x1="387.85" y1="499.5" x2="612.15" y2="499.5" stroke="#3c3c3c" stroke-width="3.3" stroke-dasharray="15 12.5"/>
<line x1="387.85" y1="621" x2="612.15" y2="621" stroke="#3c3c3c" stroke-width="3.3" stroke-dasharray="15 12.5"/>
<line x1="389.5" y1="499.5" x2="389.5" y2="621" stroke="#3c3c3c" stroke-width="3.3" stroke-dasharray="15 12.5" stroke-dashoffset="14.8"/>
<line x1="610.5" y1="499.5" x2="610.5" y2="621" stroke="#3c3c3c" stroke-width="3.3" stroke-dasharray="15 12.5" stroke-dashoffset="14.8"/>
<line x1="1127.35" y1="497.5" x2="1571.65" y2="497.5" stroke="#3c3c3c" stroke-width="3.3" stroke-dasharray="15 12.5"/>
<line x1="1127.35" y1="615" x2="1571.65" y2="615" stroke="#3c3c3c" stroke-width="3.3" stroke-dasharray="15 12.5"/>
<line x1="1129" y1="497.5" x2="1129" y2="615" stroke="#3c3c3c" stroke-width="3.3" stroke-dasharray="15 12.5" stroke-dashoffset="14.8"/>
<line x1="1570" y1="497.5" x2="1570" y2="615" stroke="#3c3c3c" stroke-width="3.3" stroke-dasharray="15 12.5" stroke-dashoffset="14.8"/>
<line x1="2046.85" y1="492" x2="2490.65" y2="492" stroke="#3c3c3c" stroke-width="3.3" stroke-dasharray="15 12.5"/>
<line x1="2046.85" y1="609" x2="2490.65" y2="609" stroke="#3c3c3c" stroke-width="3.3" stroke-dasharray="15 12.5"/>
<line x1="2048.5" y1="492" x2="2048.5" y2="609" stroke="#3c3c3c" stroke-width="3.3" stroke-dasharray="15 12.5" stroke-dashoffset="14.8"/>
<line x1="2489" y1="492" x2="2489" y2="609" stroke="#3c3c3c" stroke-width="3.3" stroke-dasharray="15 12.5" stroke-dashoffset="14.8"/>
<polyline points="611,559.5 783,559.5 783,517" fill="none" stroke="#404040" stroke-width="4" stroke-dasharray="11 8" stroke-linejoin="round"/>
<polygon points="774,520 792,520 783,495" fill="#404040"/>
<polyline points="1571,555 1718,555 1718,514.5" fill="none" stroke="#404040" stroke-width="4" stroke-dasharray="11 8" stroke-linejoin="round"/>
<polygon points="1709,517.5 1727,517.5 1718,492.5" fill="#404040"/>
<line x1="2490" y1="556" x2="2612" y2="556" stroke="url(#fadeD)" stroke-width="4" stroke-dasharray="11 8"/>
<line x1="393.5" y1="787.5" x2="603.5" y2="787.5" stroke="#000" stroke-width="4" stroke-dasharray="15.5 11.8"/>
<line x1="393.5" y1="909.5" x2="603.5" y2="909.5" stroke="#000" stroke-width="4" stroke-dasharray="15.5 11.8"/>
<line x1="395.5" y1="787.5" x2="395.5" y2="909.5" stroke="#000" stroke-width="4" stroke-dasharray="15.5 11.8" stroke-dashoffset="14.600000000000001"/>
<line x1="601.5" y1="787.5" x2="601.5" y2="909.5" stroke="#000" stroke-width="4" stroke-dasharray="15.5 11.8" stroke-dashoffset="14.600000000000001"/>
<line x1="1349.5" y1="787.5" x2="1558.5" y2="787.5" stroke="#000" stroke-width="4" stroke-dasharray="15.5 11.8"/>
<line x1="1349.5" y1="909.5" x2="1558.5" y2="909.5" stroke="#000" stroke-width="4" stroke-dasharray="15.5 11.8"/>
<line x1="1351.5" y1="787.5" x2="1351.5" y2="909.5" stroke="#000" stroke-width="4" stroke-dasharray="15.5 11.8" stroke-dashoffset="14.600000000000001"/>
<line x1="1556.5" y1="787.5" x2="1556.5" y2="909.5" stroke="#000" stroke-width="4" stroke-dasharray="15.5 11.8" stroke-dashoffset="14.600000000000001"/>
<line x1="2265.5" y1="787.5" x2="2474.5" y2="787.5" stroke="#000" stroke-width="4" stroke-dasharray="15.5 11.8"/>
<line x1="2265.5" y1="909.5" x2="2474.5" y2="909.5" stroke="#000" stroke-width="4" stroke-dasharray="15.5 11.8"/>
<line x1="2267.5" y1="787.5" x2="2267.5" y2="909.5" stroke="#000" stroke-width="4" stroke-dasharray="15.5 11.8" stroke-dashoffset="14.600000000000001"/>
<line x1="2472.5" y1="787.5" x2="2472.5" y2="909.5" stroke="#000" stroke-width="4" stroke-dasharray="15.5 11.8" stroke-dashoffset="14.600000000000001"/>
<line x1="901.5" y1="958.5" x2="1110.5" y2="958.5" stroke="#000" stroke-width="4" stroke-dasharray="15.5 11.8"/>
<line x1="901.5" y1="1091.5" x2="1110.5" y2="1091.5" stroke="#000" stroke-width="4" stroke-dasharray="15.5 11.8"/>
<line x1="903.5" y1="958.5" x2="903.5" y2="1091.5" stroke="#000" stroke-width="4" stroke-dasharray="15.5 11.8" stroke-dashoffset="14.600000000000001"/>
<line x1="1108.5" y1="958.5" x2="1108.5" y2="1091.5" stroke="#000" stroke-width="4" stroke-dasharray="15.5 11.8" stroke-dashoffset="14.600000000000001"/>
<line x1="1109.5" y1="958.5" x2="1317.5" y2="958.5" stroke="#000" stroke-width="4" stroke-dasharray="15.5 11.8"/>
<line x1="1109.5" y1="1091.5" x2="1317.5" y2="1091.5" stroke="#000" stroke-width="4" stroke-dasharray="15.5 11.8"/>
<line x1="1111.5" y1="958.5" x2="1111.5" y2="1091.5" stroke="#000" stroke-width="4" stroke-dasharray="15.5 11.8" stroke-dashoffset="14.600000000000001"/>
<line x1="1315.5" y1="958.5" x2="1315.5" y2="1091.5" stroke="#000" stroke-width="4" stroke-dasharray="15.5 11.8" stroke-dashoffset="14.600000000000001"/>
<line x1="1316.5" y1="958.5" x2="1524.5" y2="958.5" stroke="#000" stroke-width="4" stroke-dasharray="15.5 11.8"/>
<line x1="1316.5" y1="1091.5" x2="1524.5" y2="1091.5" stroke="#000" stroke-width="4" stroke-dasharray="15.5 11.8"/>
<line x1="1318.5" y1="958.5" x2="1318.5" y2="1091.5" stroke="#000" stroke-width="4" stroke-dasharray="15.5 11.8" stroke-dashoffset="14.600000000000001"/>
<line x1="1522.5" y1="958.5" x2="1522.5" y2="1091.5" stroke="#000" stroke-width="4" stroke-dasharray="15.5 11.8" stroke-dashoffset="14.600000000000001"/>
<svg x="394" y="786" width="209" height="125" style="overflow:hidden"><line x1="6.00" y1="52.26" x2="6.00" y2="72.34" stroke="#4a4a4a" stroke-width="6.6" stroke-linecap="round"/>
<line x1="20.75" y1="34.32" x2="20.75" y2="90.28" stroke="#4a4a4a" stroke-width="6.6" stroke-linecap="round"/>
<line x1="35.50" y1="48.58" x2="35.50" y2="76.02" stroke="#4a4a4a" stroke-width="6.6" stroke-linecap="round"/>
<line x1="50.25" y1="55.94" x2="50.25" y2="68.66" stroke="#4a4a4a" stroke-width="6.6" stroke-linecap="round"/>
<line x1="65.00" y1="27.88" x2="65.00" y2="96.72" stroke="#4a4a4a" stroke-width="6.6" stroke-linecap="round"/>
<line x1="79.75" y1="39.84" x2="79.75" y2="84.76" stroke="#4a4a4a" stroke-width="6.6" stroke-linecap="round"/>
<line x1="94.50" y1="47.66" x2="94.50" y2="76.94" stroke="#4a4a4a" stroke-width="6.6" stroke-linecap="round"/>
<line x1="109.25" y1="43.52" x2="109.25" y2="81.08" stroke="#4a4a4a" stroke-width="6.6" stroke-linecap="round"/>
<line x1="124.00" y1="57.09" x2="124.00" y2="67.51" stroke="#4a4a4a" stroke-width="6.6" stroke-linecap="round"/>
<line x1="138.75" y1="40.30" x2="138.75" y2="84.30" stroke="#4a4a4a" stroke-width="6.6" stroke-linecap="round"/>
<line x1="153.50" y1="23.28" x2="153.50" y2="101.32" stroke="#4a4a4a" stroke-width="6.6" stroke-linecap="round"/>
<line x1="168.25" y1="26.73" x2="168.25" y2="97.87" stroke="#4a4a4a" stroke-width="6.6" stroke-linecap="round"/>
<line x1="183.00" y1="38.23" x2="183.00" y2="86.37" stroke="#4a4a4a" stroke-width="6.6" stroke-linecap="round"/>
<line x1="197.75" y1="42.14" x2="197.75" y2="82.46" stroke="#4a4a4a" stroke-width="6.6" stroke-linecap="round"/>
<line x1="212.50" y1="41.22" x2="212.50" y2="83.38" stroke="#4a4a4a" stroke-width="6.6" stroke-linecap="round"/></svg>
<svg x="1350" y="786" width="208" height="125" style="overflow:hidden"><line x1="4.80" y1="41.22" x2="4.80" y2="83.38" stroke="#4a4a4a" stroke-width="6.6" stroke-linecap="round"/>
<line x1="19.55" y1="43.52" x2="19.55" y2="81.08" stroke="#4a4a4a" stroke-width="6.6" stroke-linecap="round"/>
<line x1="34.30" y1="53.64" x2="34.30" y2="70.96" stroke="#4a4a4a" stroke-width="6.6" stroke-linecap="round"/>
<line x1="49.05" y1="60.08" x2="49.05" y2="64.52" stroke="#4a4a4a" stroke-width="6.6" stroke-linecap="round"/>
<line x1="63.80" y1="35.24" x2="63.80" y2="89.36" stroke="#4a4a4a" stroke-width="6.6" stroke-linecap="round"/>
<line x1="78.55" y1="35.70" x2="78.55" y2="88.90" stroke="#4a4a4a" stroke-width="6.6" stroke-linecap="round"/>
<line x1="93.30" y1="41.91" x2="93.30" y2="82.69" stroke="#4a4a4a" stroke-width="6.6" stroke-linecap="round"/>
<line x1="108.05" y1="48.12" x2="108.05" y2="76.48" stroke="#4a4a4a" stroke-width="6.6" stroke-linecap="round"/>
<line x1="122.80" y1="49.04" x2="122.80" y2="75.56" stroke="#4a4a4a" stroke-width="6.6" stroke-linecap="round"/>
<line x1="137.55" y1="44.90" x2="137.55" y2="79.70" stroke="#4a4a4a" stroke-width="6.6" stroke-linecap="round"/>
<line x1="152.30" y1="43.98" x2="152.30" y2="80.62" stroke="#4a4a4a" stroke-width="6.6" stroke-linecap="round"/>
<line x1="167.05" y1="50.42" x2="167.05" y2="74.18" stroke="#4a4a4a" stroke-width="6.6" stroke-linecap="round"/>
<line x1="181.80" y1="59.62" x2="181.80" y2="64.98" stroke="#4a4a4a" stroke-width="6.6" stroke-linecap="round"/>
<line x1="196.55" y1="59.39" x2="196.55" y2="65.21" stroke="#4a4a4a" stroke-width="6.6" stroke-linecap="round"/></svg>
<svg x="2266" y="786" width="208" height="125" style="overflow:hidden"><line x1="4.00" y1="40.30" x2="4.00" y2="84.30" stroke="#4a4a4a" stroke-width="6.6" stroke-linecap="round"/>
<line x1="18.75" y1="29.26" x2="18.75" y2="95.34" stroke="#4a4a4a" stroke-width="6.6" stroke-linecap="round"/>
<line x1="33.50" y1="38.00" x2="33.50" y2="86.60" stroke="#4a4a4a" stroke-width="6.6" stroke-linecap="round"/>
<line x1="48.25" y1="53.18" x2="48.25" y2="71.42" stroke="#4a4a4a" stroke-width="6.6" stroke-linecap="round"/>
<line x1="63.00" y1="57.78" x2="63.00" y2="66.82" stroke="#4a4a4a" stroke-width="6.6" stroke-linecap="round"/>
<line x1="77.75" y1="52.26" x2="77.75" y2="72.34" stroke="#4a4a4a" stroke-width="6.6" stroke-linecap="round"/>
<line x1="92.50" y1="56.40" x2="92.50" y2="68.20" stroke="#4a4a4a" stroke-width="6.6" stroke-linecap="round"/>
<line x1="107.25" y1="61.23" x2="107.25" y2="63.37" stroke="#4a4a4a" stroke-width="6.6" stroke-linecap="round"/>
<line x1="122.00" y1="55.94" x2="122.00" y2="68.66" stroke="#4a4a4a" stroke-width="6.6" stroke-linecap="round"/>
<line x1="136.75" y1="49.04" x2="136.75" y2="75.56" stroke="#4a4a4a" stroke-width="6.6" stroke-linecap="round"/>
<line x1="151.50" y1="48.81" x2="151.50" y2="75.79" stroke="#4a4a4a" stroke-width="6.6" stroke-linecap="round"/>
<line x1="166.25" y1="53.41" x2="166.25" y2="71.19" stroke="#4a4a4a" stroke-width="6.6" stroke-linecap="round"/>
<line x1="181.00" y1="61.80" x2="181.00" y2="62.80" stroke="#4a4a4a" stroke-width="6.6" stroke-linecap="round"/>
<line x1="195.75" y1="61.80" x2="195.75" y2="62.80" stroke="#4a4a4a" stroke-width="6.6" stroke-linecap="round"/></svg>
<svg x="902" y="957" width="622" height="136" style="overflow:hidden"><line x1="5.50" y1="55.80" x2="5.50" y2="78.20" stroke="#4a4a4a" stroke-width="6.6" stroke-linecap="round"/>
<line x1="20.25" y1="36.30" x2="20.25" y2="97.70" stroke="#4a4a4a" stroke-width="6.6" stroke-linecap="round"/>
<line x1="35.00" y1="51.80" x2="35.00" y2="82.20" stroke="#4a4a4a" stroke-width="6.6" stroke-linecap="round"/>
<line x1="49.75" y1="59.80" x2="49.75" y2="74.20" stroke="#4a4a4a" stroke-width="6.6" stroke-linecap="round"/>
<line x1="64.50" y1="29.30" x2="64.50" y2="104.70" stroke="#4a4a4a" stroke-width="6.6" stroke-linecap="round"/>
<line x1="79.25" y1="42.30" x2="79.25" y2="91.70" stroke="#4a4a4a" stroke-width="6.6" stroke-linecap="round"/>
<line x1="94.00" y1="50.80" x2="94.00" y2="83.20" stroke="#4a4a4a" stroke-width="6.6" stroke-linecap="round"/>
<line x1="108.75" y1="46.30" x2="108.75" y2="87.70" stroke="#4a4a4a" stroke-width="6.6" stroke-linecap="round"/>
<line x1="123.50" y1="61.05" x2="123.50" y2="72.95" stroke="#4a4a4a" stroke-width="6.6" stroke-linecap="round"/>
<line x1="138.25" y1="42.80" x2="138.25" y2="91.20" stroke="#4a4a4a" stroke-width="6.6" stroke-linecap="round"/>
<line x1="153.00" y1="24.30" x2="153.00" y2="109.70" stroke="#4a4a4a" stroke-width="6.6" stroke-linecap="round"/>
<line x1="167.75" y1="28.05" x2="167.75" y2="105.95" stroke="#4a4a4a" stroke-width="6.6" stroke-linecap="round"/>
<line x1="182.50" y1="40.55" x2="182.50" y2="93.45" stroke="#4a4a4a" stroke-width="6.6" stroke-linecap="round"/>
<line x1="197.25" y1="44.80" x2="197.25" y2="89.20" stroke="#4a4a4a" stroke-width="6.6" stroke-linecap="round"/>
<line x1="212.00" y1="43.80" x2="212.00" y2="90.20" stroke="#4a4a4a" stroke-width="6.6" stroke-linecap="round"/>
<line x1="226.75" y1="46.30" x2="226.75" y2="87.70" stroke="#4a4a4a" stroke-width="6.6" stroke-linecap="round"/>
<line x1="241.50" y1="57.30" x2="241.50" y2="76.70" stroke="#4a4a4a" stroke-width="6.6" stroke-linecap="round"/>
<line x1="256.25" y1="64.30" x2="256.25" y2="69.70" stroke="#4a4a4a" stroke-width="6.6" stroke-linecap="round"/>
<line x1="271.00" y1="37.30" x2="271.00" y2="96.70" stroke="#4a4a4a" stroke-width="6.6" stroke-linecap="round"/>
<line x1="285.75" y1="37.80" x2="285.75" y2="96.20" stroke="#4a4a4a" stroke-width="6.6" stroke-linecap="round"/>
<line x1="300.50" y1="44.55" x2="300.50" y2="89.45" stroke="#4a4a4a" stroke-width="6.6" stroke-linecap="round"/>
<line x1="315.25" y1="51.30" x2="315.25" y2="82.70" stroke="#4a4a4a" stroke-width="6.6" stroke-linecap="round"/>
<line x1="330.00" y1="52.30" x2="330.00" y2="81.70" stroke="#4a4a4a" stroke-width="6.6" stroke-linecap="round"/>
<line x1="344.75" y1="47.80" x2="344.75" y2="86.20" stroke="#4a4a4a" stroke-width="6.6" stroke-linecap="round"/>
<line x1="359.50" y1="46.80" x2="359.50" y2="87.20" stroke="#4a4a4a" stroke-width="6.6" stroke-linecap="round"/>
<line x1="374.25" y1="53.80" x2="374.25" y2="80.20" stroke="#4a4a4a" stroke-width="6.6" stroke-linecap="round"/>
<line x1="389.00" y1="63.80" x2="389.00" y2="70.20" stroke="#4a4a4a" stroke-width="6.6" stroke-linecap="round"/>
<line x1="403.75" y1="63.55" x2="403.75" y2="70.45" stroke="#4a4a4a" stroke-width="6.6" stroke-linecap="round"/>
<line x1="418.50" y1="42.80" x2="418.50" y2="91.20" stroke="#4a4a4a" stroke-width="6.6" stroke-linecap="round"/>
<line x1="433.25" y1="30.80" x2="433.25" y2="103.20" stroke="#4a4a4a" stroke-width="6.6" stroke-linecap="round"/>
<line x1="448.00" y1="40.30" x2="448.00" y2="93.70" stroke="#4a4a4a" stroke-width="6.6" stroke-linecap="round"/>
<line x1="462.75" y1="56.80" x2="462.75" y2="77.20" stroke="#4a4a4a" stroke-width="6.6" stroke-linecap="round"/>
<line x1="477.50" y1="61.80" x2="477.50" y2="72.20" stroke="#4a4a4a" stroke-width="6.6" stroke-linecap="round"/>
<line x1="492.25" y1="55.80" x2="492.25" y2="78.20" stroke="#4a4a4a" stroke-width="6.6" stroke-linecap="round"/>
<line x1="507.00" y1="60.30" x2="507.00" y2="73.70" stroke="#4a4a4a" stroke-width="6.6" stroke-linecap="round"/>
<line x1="521.75" y1="65.55" x2="521.75" y2="68.45" stroke="#4a4a4a" stroke-width="6.6" stroke-linecap="round"/>
<line x1="536.50" y1="59.80" x2="536.50" y2="74.20" stroke="#4a4a4a" stroke-width="6.6" stroke-linecap="round"/>
<line x1="551.25" y1="52.30" x2="551.25" y2="81.70" stroke="#4a4a4a" stroke-width="6.6" stroke-linecap="round"/>
<line x1="566.00" y1="52.05" x2="566.00" y2="81.95" stroke="#4a4a4a" stroke-width="6.6" stroke-linecap="round"/>
<line x1="580.75" y1="57.05" x2="580.75" y2="76.95" stroke="#4a4a4a" stroke-width="6.6" stroke-linecap="round"/>
<line x1="595.50" y1="66.30" x2="595.50" y2="67.70" stroke="#4a4a4a" stroke-width="6.6" stroke-linecap="round"/>
<line x1="610.25" y1="66.20" x2="610.25" y2="67.80" stroke="#4a4a4a" stroke-width="6.6" stroke-linecap="round"/></svg>
<line x1="1527.00" y1="1015.80" x2="1527.00" y2="1032.20" stroke="#000" stroke-width="6.6" stroke-linecap="round"/>
<line x1="1541.75" y1="1005.30" x2="1541.75" y2="1042.70" stroke="#000" stroke-width="6.6" stroke-linecap="round"/>
<line x1="1556.50" y1="1006.30" x2="1556.50" y2="1041.70" stroke="#000" stroke-width="6.6" stroke-linecap="round"/>
<line x1="1571.25" y1="989.30" x2="1571.25" y2="1058.70" stroke="#000" stroke-width="6.6" stroke-linecap="round"/>
<line x1="1586.00" y1="1001.30" x2="1586.00" y2="1046.70" stroke="#000" stroke-width="6.6" stroke-linecap="round"/>
<line x1="1600.75" y1="1013.30" x2="1600.75" y2="1034.70" stroke="#000" stroke-width="6.6" stroke-linecap="round"/>
<line x1="1615.50" y1="1021.30" x2="1615.50" y2="1026.70" stroke="#000" stroke-width="6.6" stroke-linecap="round"/>
<line x1="1630.25" y1="1023.30" x2="1630.25" y2="1024.70" stroke="#000" stroke-width="6.6" stroke-linecap="round"/>
<line x1="1645.00" y1="1021.70" x2="1645.00" y2="1026.30" stroke="#808080" stroke-width="6.6" stroke-linecap="round"/>
<line x1="1659.75" y1="1019.30" x2="1659.75" y2="1028.70" stroke="#909090" stroke-width="6.6" stroke-linecap="round"/>
<line x1="1674.50" y1="1009.80" x2="1674.50" y2="1038.20" stroke="#a0a0a0" stroke-width="6.6" stroke-linecap="round"/>
<line x1="1689.25" y1="1011.30" x2="1689.25" y2="1036.70" stroke="#b0b0b0" stroke-width="6.6" stroke-linecap="round"/>
<line x1="1704.00" y1="999.30" x2="1704.00" y2="1048.70" stroke="#c0c0c0" stroke-width="6.6" stroke-linecap="round"/>
<line x1="1718.75" y1="999.80" x2="1718.75" y2="1048.20" stroke="#d0d0d0" stroke-width="6.6" stroke-linecap="round"/>
<line x1="1733.50" y1="995.30" x2="1733.50" y2="1052.70" stroke="#e0e0e0" stroke-width="6.6" stroke-linecap="round"/>
<line x1="1748.25" y1="1005.30" x2="1748.25" y2="1042.70" stroke="#ececec" stroke-width="6.6" stroke-linecap="round"/>
<line x1="1763.00" y1="988.30" x2="1763.00" y2="1059.70" stroke="#f6f6f6" stroke-width="6.6" stroke-linecap="round"/>
<rect x="2981" y="38" width="283" height="83.5" fill="#400a4e"/>
<rect x="2981.00" y="38.00" width="25.73" height="20.88" fill="#ffe500"/>
<rect x="3006.73" y="38.00" width="25.73" height="20.88" fill="#1ec850"/>
<rect x="3032.45" y="38.00" width="25.73" height="20.88" fill="#017694"/>
<rect x="3109.64" y="38.00" width="25.73" height="20.88" fill="#ffe500"/>
<rect x="3135.36" y="38.00" width="25.73" height="20.88" fill="#1ec850"/>
<rect x="3161.09" y="38.00" width="25.73" height="20.88" fill="#cde200"/>
<rect x="3212.55" y="38.00" width="51.45" height="20.88" fill="#017694"/>
<rect x="3006.73" y="58.88" width="25.73" height="20.88" fill="#cde200"/>
<rect x="3032.45" y="58.88" width="51.45" height="20.88" fill="#ffe500"/>
<rect x="3058.18" y="79.75" width="25.73" height="20.88" fill="#cde200"/>
<rect x="3083.91" y="79.75" width="25.73" height="20.88" fill="#ffe500"/>
<rect x="3161.09" y="79.75" width="25.73" height="20.88" fill="#1ec850"/>
<rect x="3186.82" y="79.75" width="25.73" height="20.88" fill="#cde200"/>
<rect x="3212.55" y="79.75" width="25.73" height="20.88" fill="#1ec850"/>
<rect x="3238.27" y="79.75" width="25.73" height="20.88" fill="#cde200"/>
<rect x="2981.00" y="100.62" width="25.73" height="20.88" fill="#017694"/>
<rect x="3006.73" y="100.62" width="25.73" height="20.88" fill="#0280a2"/>
<rect x="3083.91" y="100.62" width="25.73" height="20.88" fill="#ffe500"/>
<rect x="3109.64" y="100.62" width="25.73" height="20.88" fill="#017694"/>
<rect x="3135.36" y="100.62" width="25.73" height="20.88" fill="#cde200"/>
<rect x="3161.09" y="100.62" width="25.73" height="20.88" fill="#ffe500"/>
<line x1="3122.5" y1="165" x2="3122.5" y2="133" stroke="#666" stroke-width="3"/><polygon points="3116.0,141.5 3129.0,141.5 3122.5,123" fill="#666"/>
<line x1="3122.5" y1="250" x2="3122.5" y2="223" stroke="#666" stroke-width="3"/><polygon points="3116.0,231.5 3129.0,231.5 3122.5,213" fill="#666"/>
<line x1="3122.5" y1="334" x2="3122.5" y2="315" stroke="#666" stroke-width="3"/><polygon points="3116.0,323.5 3129.0,323.5 3122.5,305" fill="#666"/>
<line x1="3122.5" y1="545" x2="3122.5" y2="481" stroke="#666" stroke-width="3"/><polygon points="3116.0,489.5 3129.0,489.5 3122.5,471" fill="#666"/>
<line x1="3122.5" y1="705" x2="3122.5" y2="679" stroke="#666" stroke-width="3"/><polygon points="3116.0,687.5 3129.0,687.5 3122.5,669" fill="#666"/>
<g transform="translate(3331,220) scale(1.0)"><path d="M4.5,15 C6,11 8,9 10.5,7 C9.5,11 8,14 5.5,18 Z" fill="#f4533a"/><path d="M20,0 C27,6 33,13 34,24 C36,23 38,21 39,19 C43,27 45,35 42,43 C39,51 31,55 21,55 C11,55 3,50 1,41 C0,35 2,30 4,26 C5,29 7,31 9,32 C9,23 12,15 16,11 C18,8 20,5 20,0 Z" fill="url(#flO)"/><path d="M21,9 C27,15 31,22 31,30 C33,29 35,27 36,25 C40,33 40,41 37,46 C34,52 28,55 21,55 C13,55 7,51 5,44 C4,39 6,35 8,32 C10,36 12,38 14,39 C13,30 16,22 21,9 Z" fill="url(#flI)"/></g>
<g transform="translate(3331,305) scale(1.0)"><path d="M4.5,15 C6,11 8,9 10.5,7 C9.5,11 8,14 5.5,18 Z" fill="#f4533a"/><path d="M20,0 C27,6 33,13 34,24 C36,23 38,21 39,19 C43,27 45,35 42,43 C39,51 31,55 21,55 C11,55 3,50 1,41 C0,35 2,30 4,26 C5,29 7,31 9,32 C9,23 12,15 16,11 C18,8 20,5 20,0 Z" fill="url(#flO)"/><path d="M21,9 C27,15 31,22 31,30 C33,29 35,27 36,25 C40,33 40,41 37,46 C34,52 28,55 21,55 C13,55 7,51 5,44 C4,39 6,35 8,32 C10,36 12,38 14,39 C13,30 16,22 21,9 Z" fill="url(#flI)"/></g>
<g transform="translate(3321,513) scale(1.0)"><path d="M4.5,15 C6,11 8,9 10.5,7 C9.5,11 8,14 5.5,18 Z" fill="#f4533a"/><path d="M20,0 C27,6 33,13 34,24 C36,23 38,21 39,19 C43,27 45,35 42,43 C39,51 31,55 21,55 C11,55 3,50 1,41 C0,35 2,30 4,26 C5,29 7,31 9,32 C9,23 12,15 16,11 C18,8 20,5 20,0 Z" fill="url(#flO)"/><path d="M21,9 C27,15 31,22 31,30 C33,29 35,27 36,25 C40,33 40,41 37,46 C34,52 28,55 21,55 C13,55 7,51 5,44 C4,39 6,35 8,32 C10,36 12,38 14,39 C13,30 16,22 21,9 Z" fill="url(#flI)"/></g>
<g transform="translate(3321,673) scale(1.0)"><path d="M4.5,15 C6,11 8,9 10.5,7 C9.5,11 8,14 5.5,18 Z" fill="#f4533a"/><path d="M20,0 C27,6 33,13 34,24 C36,23 38,21 39,19 C43,27 45,35 42,43 C39,51 31,55 21,55 C11,55 3,50 1,41 C0,35 2,30 4,26 C5,29 7,31 9,32 C9,23 12,15 16,11 C18,8 20,5 20,0 Z" fill="url(#flO)"/><path d="M21,9 C27,15 31,22 31,30 C33,29 35,27 36,25 C40,33 40,41 37,46 C34,52 28,55 21,55 C13,55 7,51 5,44 C4,39 6,35 8,32 C10,36 12,38 14,39 C13,30 16,22 21,9 Z" fill="url(#flI)"/></g>
</svg>
</body></html>
